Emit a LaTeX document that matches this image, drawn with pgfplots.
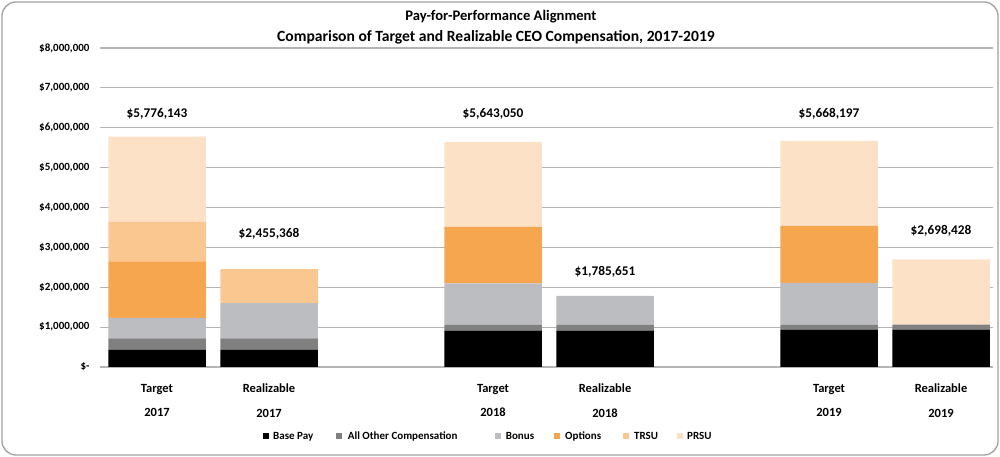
\documentclass[border=0pt]{standalone}
\usepackage{pgfplots}
\pgfplotsset{compat=1.18}
\usepackage{fontspec}
\setmainfont{Carlito}

\definecolor{basepay}{HTML}{000000}
\definecolor{other}{HTML}{808080}
\definecolor{bonus}{HTML}{BCBDC0}
\definecolor{options}{HTML}{F7A650}
\definecolor{trsu}{HTML}{FBC791}
\definecolor{prsu}{HTML}{FDE1C7}
\definecolor{gridc}{HTML}{B4B4B4}
\definecolor{framec}{HTML}{A0A0A0}
\tikzset{
  total/.style={anchor=base, font=\bfseries\fontsize{13.3}{15}\selectfont},
  legtext/.style={anchor=base west, inner sep=0pt, font=\bfseries\fontsize{11}{13}\selectfont},
}

\begin{document}
\begin{tikzpicture}
\begin{axis}[
  name=main,
  scale only axis,
  width=893pt,
  height=319pt,
  xmin=-0.509, xmax=7.464,
  ymin=0, ymax=8000000,
  ybar stacked,
  bar width=97.5pt,
  axis x line*=bottom,
  axis y line*=left,
  y axis line style={draw=none},
  x axis line style={draw=gridc, line width=1.2pt, -},
  ymajorgrids,
  major grid style={draw=gridc, line width=1.2pt},
  major tick length=0pt,
  xtick={0,1,3,4,6,7},
  xticklabels={{Target\\2017},{Realizable\\2017},{Target\\2018},{Realizable\\2018},{Target\\2019},{Realizable\\2019}},
  xticklabel style={align=center, font=\bfseries\fontsize{12.5}{24.3}\selectfont, yshift=-13.5pt},
  ytick={0,1000000,2000000,3000000,4000000,5000000,6000000,7000000,8000000},
  yticklabels={\$-,{\$1,000,000},{\$2,000,000},{\$3,000,000},{\$4,000,000},{\$5,000,000},{\$6,000,000},{\$7,000,000},{\$8,000,000}},
  scaled y ticks=false,
  yticklabel style={font=\bfseries\fontsize{11}{13}\selectfont, xshift=-7pt},
]
% Base Pay
\addplot[fill=basepay, draw=none] coordinates {(0,434000) (1,434000) (3,910000) (4,910000) (6,935000) (7,935000)};
% All Other Compensation
\addplot[fill=other, draw=none] coordinates {(0,283000) (1,283000) (3,150000) (4,150000) (6,125000) (7,125000)};
% Bonus
\addplot[fill=bonus, draw=none] coordinates {(0,518000) (1,887000) (3,1035000) (4,726000) (6,1050000) (7,0)};
% Options
\addplot[fill=options, draw=none] coordinates {(0,1415000) (1,0) (3,1421000) (4,0) (6,1430000) (7,0)};
% TRSU
\addplot[fill=trsu, draw=none] coordinates {(0,990000) (1,851000) (3,0) (4,0) (6,0) (7,0)};
% PRSU
\addplot[fill=prsu, draw=none] coordinates {(0,2136000) (1,0) (3,2127000) (4,0) (6,2128000) (7,1638000)};

\node[total] at (axis cs:0,6266000) {\$5,776,143};
\node[total] at (axis cs:1,3248000) {\$2,455,368};
\node[total] at (axis cs:3,6266000) {\$5,643,050};
\node[total] at (axis cs:4,2288000) {\$1,785,651};
\node[total] at (axis cs:6,6266000) {\$5,668,197};
\node[total] at (axis cs:7,3333000) {\$2,698,428};
\end{axis}

\begin{scope}[shift={(main.south west)}, x=1pt, y=1pt]
\node[anchor=base, font=\bfseries\fontsize{14.6}{18}\selectfont] at (401,346.3) {Pay-for-Performance Alignment};
\node[anchor=base, font=\bfseries\fontsize{15.6}{18}\selectfont] at (396,325.7) {Comparison of Target and Realizable CEO Compensation, 2017-2019};
% legend
\fill[basepay] (162.7,-71.7) rectangle ++(5.8,6);
\node[legtext] at (173,-72.3) {Base Pay};
\fill[other] (236,-71.7) rectangle ++(5.8,6);
\node[legtext] at (247.7,-72.3) {All Other Compensation};
\fill[bonus] (395,-71.7) rectangle ++(5.8,6);
\node[legtext] at (405.7,-72.3) {Bonus};
\fill[options] (454,-71.7) rectangle ++(5.8,6);
\node[legtext] at (465,-72.3) {Options};
\fill[trsu] (522.7,-71.7) rectangle ++(5.8,6);
\node[legtext] at (534,-72.3) {TRSU};
\fill[prsu] (576.7,-71.7) rectangle ++(5.8,6);
\node[legtext] at (587,-72.3) {PRSU};
\draw[framec, line width=1.3pt, rounded corners=14pt] (-98,-88) rectangle (898,365);
\pgfresetboundingbox
\path (-100,-90) rectangle (900,367);
\end{scope}
\end{tikzpicture}
\end{document}
